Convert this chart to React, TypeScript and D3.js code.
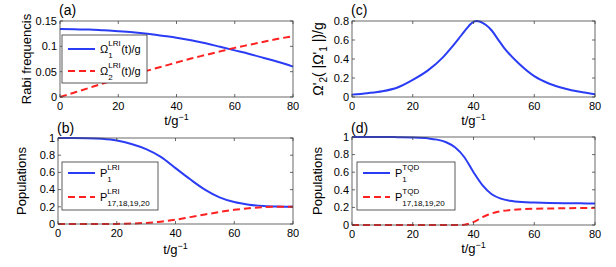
import React from "react";
import * as d3 from "d3";

// ---- data ----
const tRabi = [0, 5, 10, 15, 20, 25, 30, 35, 40, 45, 50, 55, 60, 65, 70, 75, 80];
const omega1 = [0.134, 0.1335, 0.133, 0.1315, 0.13, 0.128, 0.125, 0.121, 0.117, 0.112, 0.106, 0.099, 0.092, 0.085, 0.077, 0.069, 0.06];
const omega2 = [0, 0.009, 0.018, 0.027, 0.035, 0.044, 0.052, 0.06, 0.068, 0.076, 0.083, 0.09, 0.097, 0.103, 0.109, 0.115, 0.12];

const tPeak = [0, 5, 10, 15, 20, 25, 30, 33, 36, 38, 39, 40, 41, 42, 43, 44, 46, 48, 50, 55, 60, 65, 70, 75, 80];
const omegaPrime = [0.025, 0.04, 0.06, 0.1, 0.18, 0.28, 0.42, 0.53, 0.65, 0.73, 0.765, 0.79, 0.8, 0.795, 0.78, 0.76, 0.7, 0.61, 0.52, 0.35, 0.22, 0.14, 0.09, 0.055, 0.03];

const tLRI = [0, 5, 10, 15, 20, 25, 30, 35, 40, 45, 50, 55, 60, 65, 70, 75, 80];
const p1LRI = [1, 1, 0.998, 0.99, 0.97, 0.93, 0.87, 0.78, 0.65, 0.52, 0.4, 0.31, 0.255, 0.225, 0.21, 0.203, 0.2];
const p17LRI = [0, 0, 0, 0, 0.001, 0.005, 0.013, 0.027, 0.05, 0.08, 0.11, 0.14, 0.165, 0.183, 0.195, 0.2, 0.2];

const tTQD1 = [0, 5, 10, 15, 20, 25, 28, 31, 34, 37, 40, 43, 46, 49, 52, 56, 60, 65, 70, 75, 80];
const p1TQD = [1, 1, 1, 0.998, 0.995, 0.985, 0.97, 0.94, 0.88, 0.77, 0.6, 0.45, 0.35, 0.3, 0.275, 0.26, 0.255, 0.25, 0.248, 0.246, 0.245];
const tTQD17 = [0, 10, 20, 30, 35, 37, 39, 41, 43, 45, 48, 52, 56, 60, 70, 80];
const p17TQD = [0, 0, 0, 0, 0, 0.003, 0.02, 0.05, 0.09, 0.12, 0.15, 0.17, 0.18, 0.185, 0.19, 0.195];

const xTicks = [0, 20, 40, 60, 80];
const rabiTicks = [0, 0.05, 0.1, 0.15];
const popTicks = [0, 0.2, 0.4, 0.6, 0.8, 1];
const peakTicks = [0, 0.2, 0.4, 0.6, 0.8];

const BLUE = "#2b3cf5";
const RED = "#ff2020";
const FONT = "'Liberation Sans', Arial, Helvetica, sans-serif";

const ctx = typeof document !== "undefined" ? document.createElement("canvas").getContext("2d") : null;
function textW(s, size) {
  if (!ctx) return s.length * size * 0.55;
  ctx.font = `${size}px 'Liberation Sans'`;
  return ctx.measureText(s).width;
}

function LegendEntry({ x, y, color, dash, main, sup, sub, suffix }) {
  const tx = x + 32;
  const mw = textW(main, 11);
  const sx = tx + mw;
  const scriptW = Math.max(textW(sup, 8), textW(sub, 8));
  return (
    <g>
      <line x1={x} x2={x + 27} y1={y} y2={y} stroke={color} strokeWidth={2} strokeDasharray={dash ? "7,4" : null} />
      <text x={tx} y={y + 4} fontSize={11}>{main}</text>
      <text x={sx} y={y - 3} fontSize={8}>{sup}</text>
      <text x={sx} y={y + 9} fontSize={8}>{sub}</text>
      {suffix && <text x={sx + scriptW + 0.5} y={y + 4} fontSize={11}>{suffix}</text>}
    </g>
  );
}

function Panel({ box, yDomain, yTicks, series, legend, letter, letterY, yLabel, yLabelX, yLabelSize, xLabelY }) {
  const [x0, x1, y0, y1] = box;
  const xs = d3.scaleLinear().domain([0, 80]).range([x0, x1]);
  const ys = d3.scaleLinear().domain(yDomain).range([y1, y0]);
  const line = d3.line().x(d => xs(d[0])).y(d => ys(d[1])).curve(d3.curveMonotoneX);
  const tick = 3;
  return (
    <g>
      {series.map((s, i) => (
        <path key={i} d={line(s.t.map((t, j) => [t, s.v[j]]))} fill="none" stroke={s.color}
          strokeWidth={2} strokeDasharray={s.dash ? "7,4" : null} />
      ))}
      <rect x={x0} y={y0} width={x1 - x0} height={y1 - y0} fill="none" stroke="#444" strokeWidth={0.8} />
      {xTicks.map(t => (
        <g key={"x" + t}>
          <line x1={xs(t)} x2={xs(t)} y1={y1} y2={y1 - tick} stroke="#444" strokeWidth={0.8} />
          <line x1={xs(t)} x2={xs(t)} y1={y0} y2={y0 + tick} stroke="#444" strokeWidth={0.8} />
          <text x={xs(t)} y={y1 + 13} fontSize={11} textAnchor="middle">{t}</text>
        </g>
      ))}
      {yTicks.map(v => (
        <g key={"y" + v}>
          <line x1={x0} x2={x0 + tick} y1={ys(v)} y2={ys(v)} stroke="#444" strokeWidth={0.8} />
          <line x1={x1} x2={x1 - tick} y1={ys(v)} y2={ys(v)} stroke="#444" strokeWidth={0.8} />
          <text x={x0 - 3} y={ys(v)} dy="0.35em" fontSize={11} textAnchor="end">{String(v)}</text>
        </g>
      ))}
      <text x={(x0 + x1) / 2} y={xLabelY} fontSize={13} textAnchor="middle">
        t/g<tspan dy={-5} fontSize={9}>−1</tspan>
      </text>
      <text transform={`translate(${yLabelX},${(y0 + y1) / 2}) rotate(-90)`} fontSize={yLabelSize || 13} textAnchor="middle">
        {yLabel}
      </text>
      <text x={x0 - 1} y={letterY} fontSize={14}>{letter}</text>
      {legend && (
        <g>
          <rect x={legend.x} y={legend.y} width={legend.w} height={legend.h} fill="#fff" stroke="#333" strokeWidth={0.8} />
          {legend.entries.map((e, i) => (
            <LegendEntry key={i} x={legend.x + 6} y={legend.y + legend.first + i * legend.gap} {...e} />
          ))}
        </g>
      )}
    </g>
  );
}

export default function App() {
  return (
    <svg width={616} height={267} style={{ position: "absolute", left: 0, top: 0, background: "#fff" }} fontFamily={FONT}>
      <Panel
        box={[60, 293, 21, 97]}
        yDomain={[0, 0.15]}
        yTicks={rabiTicks}
        series={[
          { t: tRabi, v: omega1, color: BLUE },
          { t: tRabi, v: omega2, color: RED, dash: true },
        ]}
        legend={{
          x: 62, y: 35, w: 85, h: 48, first: 14, gap: 22,
          entries: [
            { color: BLUE, main: "Ω", sup: "LRI", sub: "1", suffix: "(t)/g" },
            { color: RED, dash: true, main: "Ω", sup: "LRI", sub: "2", suffix: "(t)/g" },
          ],
        }}
        letter="(a)"
        letterY={15}
        yLabel="Rabi frequencis"
        yLabelX={31}
        xLabelY={125}
      />
      <Panel
        box={[352, 595, 21, 97]}
        yDomain={[0, 0.8]}
        yTicks={peakTicks}
        series={[{ t: tPeak, v: omegaPrime, color: BLUE }]}
        letter="(c)"
        letterY={15}
        yLabel={
          <>
            Ω'<tspan dy={4} fontSize={10}>2</tspan>
            <tspan dy={-4}>( |Ω'</tspan>
            <tspan dy={4} fontSize={10}>1</tspan>
            <tspan dy={-4}> |)/g</tspan>
          </>
        }
        yLabelSize={14}
        yLabelX={323}
        xLabelY={125}
      />
      <Panel
        box={[58, 293, 138, 224]}
        yDomain={[0, 1]}
        yTicks={popTicks}
        series={[
          { t: tLRI, v: p1LRI, color: BLUE },
          { t: tLRI, v: p17LRI, color: RED, dash: true },
        ]}
        legend={{
          x: 62, y: 162, w: 96, h: 48, first: 11, gap: 24,
          entries: [
            { color: BLUE, main: "P", sup: "LRI", sub: "1" },
            { color: RED, dash: true, main: "P", sup: "LRI", sub: "17,18,19,20" },
          ],
        }}
        letter="(b)"
        letterY={133}
        yLabel="Populations"
        yLabelX={26}
        xLabelY={254}
      />
      <Panel
        box={[352, 595, 137, 225]}
        yDomain={[0, 1]}
        yTicks={popTicks}
        series={[
          { t: tTQD1, v: p1TQD, color: BLUE },
          { t: tTQD17, v: p17TQD, color: RED, dash: true },
        ]}
        legend={{
          x: 357, y: 162, w: 98, h: 48, first: 11, gap: 24,
          entries: [
            { color: BLUE, main: "P", sup: "TQD", sub: "1" },
            { color: RED, dash: true, main: "P", sup: "TQD", sub: "17,18,19,20" },
          ],
        }}
        letter="(d)"
        letterY={133}
        yLabel="Populations"
        yLabelX={322}
        xLabelY={253}
      />
    </svg>
  );
}
